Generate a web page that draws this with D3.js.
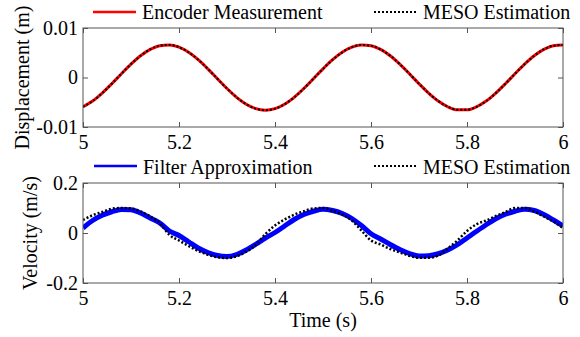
<!DOCTYPE html>
<html>
<head>
<meta charset="utf-8">
<script src="https://cdn.jsdelivr.net/npm/d3@7"></script>
<style>
  body { margin: 0; background: #fff; }
  svg text { font-family: "Liberation Serif", "Times New Roman", serif; fill: #000; }
</style>
</head>
<body>
<div id="chart"></div>
<script>
// time samples (s), shared by every series
const time = [5.00, 5.02, 5.04, 5.06, 5.08, 5.10, 5.12, 5.14, 5.16, 5.18,
  5.20, 5.22, 5.24, 5.26, 5.28, 5.30, 5.32, 5.34, 5.36, 5.38,
  5.40, 5.42, 5.44, 5.46, 5.48, 5.50, 5.52, 5.54, 5.56, 5.58,
  5.60, 5.62, 5.64, 5.66, 5.68, 5.70, 5.72, 5.74, 5.76, 5.78,
  5.80, 5.82, 5.84, 5.86, 5.88, 5.90, 5.92, 5.94, 5.96, 5.98, 6.00];

// displacement (m)
const encoderDisp = [-0.00591, -0.00476, -0.00315, -0.00126, 0.00076, 0.00270, 0.00439, 0.00567, 0.00643, 0.00658,
  0.00612, 0.00509, 0.00359, 0.00175, -0.00025, -0.00223, -0.00400, -0.00540, -0.00629, -0.00660,
  -0.00629, -0.00540, -0.00400, -0.00223, -0.00025, 0.00175, 0.00359, 0.00509, 0.00612, 0.00658,
  0.00643, 0.00567, 0.00439, 0.00270, 0.00076, -0.00126, -0.00315, -0.00476, -0.00591, -0.00652,
  -0.00652, -0.00591, -0.00476, -0.00315, -0.00126, 0.00076, 0.00270, 0.00439, 0.00567, 0.00643, 0.00658];
// MESO estimate sits on the encoder trace within a line width
const mesoDisp = encoderDisp.slice();

// velocity (m/s)
const filterVel = [0.020, 0.050, 0.071, 0.085, 0.094, 0.093, 0.080, 0.060, 0.040, 0.008,
  -0.010, -0.035, -0.060, -0.078, -0.090, -0.094, -0.086, -0.068, -0.045, -0.020,
  0.002, 0.028, 0.054, 0.074, 0.087, 0.095, 0.090, 0.078, 0.058, 0.030,
  -0.003, -0.024, -0.046, -0.066, -0.082, -0.092, -0.091, -0.083, -0.068, -0.047,
  -0.020, 0.007, 0.033, 0.057, 0.075, 0.087, 0.095, 0.090, 0.074, 0.052, 0.028];
const mesoVel = [0.052, 0.071, 0.084, 0.097, 0.100, 0.098, 0.086, 0.066, 0.040, -0.008,
  -0.030, -0.052, -0.072, -0.087, -0.097, -0.100, -0.093, -0.075, -0.048, -0.004,
  0.030, 0.054, 0.073, 0.087, 0.098, 0.100, 0.088, 0.074, 0.050, 0.010,
  -0.030, -0.046, -0.064, -0.078, -0.091, -0.099, -0.099, -0.090, -0.062, -0.030,
  0.008, 0.035, 0.050, 0.068, 0.084, 0.100, 0.100, 0.086, 0.066, 0.046, 0.020];

const xTicks = [5, 5.2, 5.4, 5.6, 5.8, 6];
const dispTicks = [-0.01, 0, 0.01];
const velTicks = [-0.2, 0, 0.2];

const width = 580, height = 337;
const left = 83, right = 563;
const fontSize = 20;

var svg = d3.select("#chart")
    .append("svg")
    .attr("width", width)
    .attr("height", height);

const x = d3.scaleLinear().domain([5, 6]).range([left, right]);

// one panel: box, inward ticks on all four sides, labels, clipped lines
function panel(id, top, bottom, domain, yTicks, yTitle, titleX, series) {
    const y = d3.scaleLinear().domain(domain).range([bottom, top]);
    const g = svg.append("g");

    g.append("clipPath").attr("id", id)
        .append("rect")
        .attr("x", left).attr("y", top)
        .attr("width", right - left).attr("height", bottom - top);

    const fmt = d => String(d);
    const axes = [
        [d3.axisBottom(x).tickValues(xTicks).tickFormat(fmt).tickSize(-5).tickPadding(8), `translate(0,${bottom})`],
        [d3.axisTop(x).tickValues(xTicks).tickFormat("").tickSize(-5), `translate(0,${top})`],
        [d3.axisLeft(y).tickValues(yTicks).tickFormat(fmt).tickSize(-5).tickPadding(5), `translate(${left},0)`],
        [d3.axisRight(y).tickValues(yTicks).tickFormat("").tickSize(-5), `translate(${right},0)`]
    ];
    axes.forEach(([axis, tr]) => {
        const a = g.append("g").attr("transform", tr).call(axis);
        a.select(".domain").remove();
        a.selectAll("line").attr("stroke", "#555");
        a.selectAll("text").style("font-size", fontSize + "px")
            .style("font-family", '"Liberation Serif", "Times New Roman", serif')
            .attr("fill", "#000");
    });

    const line = d3.line()
        .x((d, i) => x(time[i]))
        .y(d => y(d))
        .curve(d3.curveMonotoneX);

    series.forEach(s => {
        g.append("path")
            .datum(s.values)
            .attr("clip-path", `url(#${id})`)
            .attr("fill", "none")
            .attr("stroke", s.color)
            .attr("stroke-width", s.width)
            .attr("stroke-dasharray", s.dash || null)
            .attr("d", line);
    });

    g.append("rect")
        .attr("x", left).attr("y", top)
        .attr("width", right - left).attr("height", bottom - top)
        .attr("fill", "none")
        .attr("stroke", "#555")
        .attr("stroke-width", 1);

    g.append("text")
        .attr("transform", `translate(${titleX},${(top + bottom) / 2}) rotate(-90)`)
        .attr("text-anchor", "middle")
        .style("font-size", fontSize + "px")
        .text(yTitle);
}

// legend entries sit above each panel
function legend(items, lineY, textY) {
    items.forEach(it => {
        svg.append("line")
            .attr("x1", it.x).attr("x2", it.x + 43)
            .attr("y1", lineY).attr("y2", lineY)
            .attr("stroke", it.color)
            .attr("stroke-width", it.width)
            .attr("stroke-dasharray", it.dash || null);
        svg.append("text")
            .attr("x", it.x + 49).attr("y", textY)
            .style("font-size", fontSize + "px")
            .text(it.label);
    });
}

const dotted = "2,2";

panel("clipTop", 28, 127, [-0.01, 0.01], dispTicks, "Displacement (m)", 29, [
    { values: encoderDisp, color: "#ff0000", width: 3 },
    { values: mesoDisp, color: "#000", width: 2, dash: dotted }
]);
panel("clipBottom", 183, 283, [-0.2, 0.2], velTicks, "Velocity (m/s)", 37, [
    { values: filterVel, color: "#0000ff", width: 5 },
    { values: mesoVel, color: "#000", width: 2.5, dash: dotted }
]);

legend([
    { x: 93, color: "#ff0000", width: 2.5, label: "Encoder Measurement" },
    { x: 374, color: "#000", width: 2, dash: dotted, label: "MESO Estimation" }
], 12, 19);
legend([
    { x: 94, color: "#0000ff", width: 2.5, label: "Filter Approximation" },
    { x: 374, color: "#000", width: 2, dash: dotted, label: "MESO Estimation" }
], 166, 174);

// x-axis title under the bottom panel
svg.append("text")
    .attr("x", (left + right) / 2)
    .attr("y", 327)
    .attr("text-anchor", "middle")
    .style("font-size", fontSize + "px")
    .text("Time (s)");
</script>
</body>
</html>
